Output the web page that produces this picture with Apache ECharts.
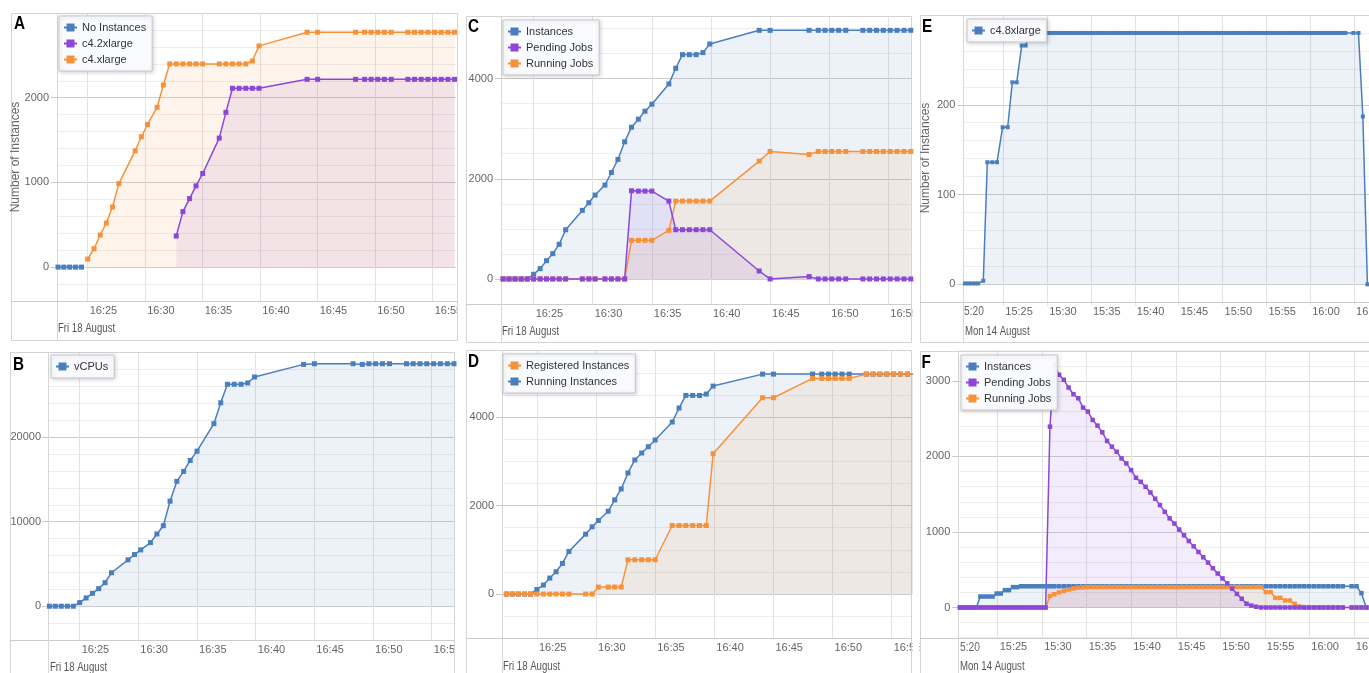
<!DOCTYPE html>
<html><head><meta charset="utf-8">
<script src="https://cdn.jsdelivr.net/npm/echarts@6/dist/echarts.min.js"></script>
<style>html,body{margin:0;padding:0;background:#fff}#c{width:1369px;height:673px}</style>
</head><body><div id="c"></div>
<script>
// ---------------- DATA (minutes after the hour) ----------------
// Fri 18 August, minutes after 16:00 (panels A-D)
const T_AD = [22.42, 22.92, 23.43, 23.95, 24.46, 25.0, 25.55, 26.09, 26.62, 27.16,
  27.71, 29.12, 29.67, 30.2, 31.03, 31.58, 32.13, 32.7, 33.28, 33.86,
  34.42, 35.0, 36.44, 37.02, 37.59, 38.17, 38.75, 39.32, 39.9, 44.08,
  45.0, 48.3, 49.08, 49.65, 50.22, 50.8, 51.4, 52.85, 53.42, 54.0,
  54.58, 55.16, 55.74, 56.33, 56.9];

const A_NO_INSTANCES = [0, 0, 0, 0, 0];
const A_C4_2XLARGE = [null, null, null, null, null, null, null, null, null, null,
  null, null, null, null, null, null, null, 367, 655, 809,
  959, 1105, 1523, 1827, 2111, 2111, 2111, 2111, 2111, 2217,
  2217, 2217, 2217, 2217, 2217, 2217, 2217, 2217, 2217, 2217,
  2217, 2217, 2217, 2217, 2217];
const A_C4_XLARGE = [null, null, null, null, null, 95, 217, 379, 521, 710,
  986, 1373, 1539, 1684, 1886, 2150, 2399, 2399, 2399, 2399,
  2399, 2399, 2399, 2399, 2399, 2399, 2399, 2434, 2612, 2773,
  2773, 2773, 2773, 2773, 2773, 2773, 2773, 2773, 2773, 2773,
  2773, 2773, 2773, 2773, 2773];

const B_VCPUS = [0, 0, 0, 0, 0, 431, 980, 1529, 2078, 2783,
  3959, 5488, 6115, 6664, 7526, 8546, 9526, 12426, 14778, 15954,
  17248, 18346, 21600, 24069, 26264, 26264, 26264, 26421, 27126, 28616,
  28694, 28694, 28616, 28694, 28694, 28694, 28694, 28694, 28694, 28694,
  28694, 28694, 28694, 28694, 28694];

const C_INSTANCES = [0, 0, 0, 0, 0, 93, 206, 365, 505, 691,
  983, 1369, 1522, 1675, 1874, 2126, 2386, 2738, 3030, 3190,
  3349, 3489, 3894, 4206, 4479, 4479, 4479, 4519, 4691, 4964,
  4964, 4964, 4964, 4964, 4964, 4964, 4964, 4964, 4964, 4964,
  4964, 4964, 4964, 4964, 4964];
const C_PENDING = [0, 0, 0, 0, 0, 0, 0, 0, 0, 0,
  0, 0, 0, 0, 0, 0, 0, 0, 1761, 1754,
  1754, 1754, 1555, 983, 983, 983, 983, 983, 983, 159,
  0, 47, 0, 0, 0, 0, 0, 0, 0, 0,
  0, 0, 0, 0, 0];
const C_RUNNING = [0, 0, 0, 0, 0, 0, 0, 0, 0, 0,
  0, 0, 0, 0, 0, 0, 0, 0, 771, 771,
  771, 771, 970, 1555, 1555, 1555, 1555, 1555, 1555, 2352,
  2545, 2485, 2545, 2545, 2545, 2545, 2545, 2545, 2545, 2545,
  2545, 2545, 2545, 2545, 2545];

const D_REGISTERED = [0, 0, 0, 0, 0, 0, 0, 0, 0, 0,
  0, 0, 0, 158, 158, 158, 158, 775, 775, 775,
  775, 775, 1549, 1549, 1549, 1549, 1549, 1549, 3173, 4437,
  4437, 4873, 4873, 4873, 4873, 4873, 4873, 4971, 4971, 4971,
  4971, 4971, 4971, 4971, 4971];
const D_RUNNING = [0, 0, 0, 0, 0, 105, 203, 361, 504, 692,
  963, 1354, 1519, 1662, 1872, 2128, 2376, 2737, 3031, 3188,
  3331, 3482, 3888, 4204, 4489, 4489, 4489, 4520, 4700, 4971,
  4971, 4971, 4971, 4971, 4971, 4971, 4971, 4971, 4971, 4971,
  4971, 4971, 4971, 4971, 4971];

// Mon 14 August, minutes after 15:00 (panel E)
const E_T = [20.63, 21.0, 21.38, 21.76, 22.14, 22.72, 23.18, 23.75, 24.28, 24.93,
  25.5, 26.03, 26.53, 27.1, 27.55,
  28.04, 28.37, 28.70, 29.03, 29.36, 29.69, 30.02, 30.35, 30.68, 31.01,
  31.34, 31.67, 32.00, 32.33, 32.66, 32.99, 33.32, 33.65, 33.98, 34.31,
  34.64, 34.97, 35.30, 35.63, 35.96, 36.29, 36.62, 36.95, 37.28, 37.61,
  37.94, 38.27, 38.60, 38.93, 39.26, 39.59, 39.92, 40.25, 40.58, 40.91,
  41.24, 41.57, 41.90, 42.23, 42.56, 42.89, 43.22, 43.55, 43.88, 44.21,
  44.54, 44.87, 45.20, 45.53, 45.86, 46.19, 46.52, 46.85, 47.18, 47.51,
  47.84, 48.17, 48.50, 48.83, 49.16, 49.49, 49.82, 50.15, 50.48, 50.81,
  51.14, 51.47, 51.80, 52.13, 52.46, 52.79, 53.12, 53.45, 53.78, 54.11,
  54.44, 54.77, 55.10, 55.43, 55.76, 56.09, 56.42, 56.75, 57.08, 57.41,
  57.74, 58.07, 58.40, 58.73, 59.06, 59.39, 59.72, 60.05, 60.38, 60.71,
  61.04, 61.37, 61.70, 62.03, 62.36, 62.69, 63.02, 63.35, 63.68, 64.01,
  64.92, 65.5, 66.0, 66.52];
const E_C4_8XLARGE = [1, 1, 1, 1, 1, 4, 136, 136, 136, 175,
  175, 225, 225, 266, 266,
  280, 280, 280, 280, 280, 280, 280, 280, 280, 280,
  280, 280, 280, 280, 280, 280, 280, 280, 280, 280,
  280, 280, 280, 280, 280, 280, 280, 280, 280, 280,
  280, 280, 280, 280, 280, 280, 280, 280, 280, 280,
  280, 280, 280, 280, 280, 280, 280, 280, 280, 280,
  280, 280, 280, 280, 280, 280, 280, 280, 280, 280,
  280, 280, 280, 280, 280, 280, 280, 280, 280, 280,
  280, 280, 280, 280, 280, 280, 280, 280, 280, 280,
  280, 280, 280, 280, 280, 280, 280, 280, 280, 280,
  280, 280, 280, 280, 280, 280, 280, 280, 280, 280,
  280, 280, 280, 280, 280, 280, 280, 280, 280, 280,
  280, 280, 187, 0];

// Mon 14 August, minutes after 15:00 (panel F)
const F_T = [20.77, 21.23, 21.69, 22.14, 22.6, 23.06, 23.52, 23.98, 24.43, 24.89,
  25.35, 25.81, 26.27, 26.72, 27.18, 27.64, 28.1, 28.56, 29.01, 29.47,
  29.93, 30.39, 30.87, 31.35, 31.89, 32.43, 32.97, 33.51, 34.05, 34.59,
  35.13, 35.67, 36.21, 36.75, 37.29, 37.83, 38.37, 38.91, 39.45, 39.99,
  40.53, 41.07, 41.61, 42.15, 42.69, 43.23, 43.77, 44.31, 44.85, 45.39,
  45.93, 46.47, 47.01, 47.55, 48.09, 48.63, 49.17, 49.71, 50.25, 50.79,
  51.33, 51.87, 52.41, 52.95, 53.49, 54.03, 54.57, 55.11, 55.65, 56.19,
  56.73, 57.27, 57.81, 58.35, 58.89, 59.43, 59.97, 60.51, 61.05, 61.59,
  62.13, 62.67, 63.21, 63.75, 64.75, 65.3, 65.85, 66.4];
const F_INSTANCES = [0, 0, 0, 0, 0, 145, 145, 145, 145, 185,
  185, 230, 230, 270, 270, 281, 281, 281, 281, 281,
  281, 281, 281, 281, 281, 281, 281, 281, 281, 281,
  281, 281, 281, 281, 281, 281, 281, 281, 281, 281,
  281, 281, 281, 281, 281, 281, 281, 281, 281, 281,
  281, 281, 281, 281, 281, 281, 281, 281, 281, 281,
  281, 281, 281, 281, 281, 281, 281, 281, 281, 281,
  281, 281, 281, 281, 281, 281, 281, 281, 281, 281,
  281, 281, 281, 281, 281, 281, 190, 0];
const F_PENDING = [0, 0, 0, 0, 0, 0, 0, 0, 0, 0,
  0, 0, 0, 0, 0, 0, 0, 0, 0, 0,
  0, 0, 2394, 3214, 3081, 3015, 2912, 2824, 2771, 2647,
  2594, 2483, 2408, 2320, 2205, 2129, 2062, 1974, 1908, 1819,
  1717, 1664, 1598, 1523, 1440, 1355, 1266, 1180, 1111, 1032,
  956, 880, 810, 735, 665, 595, 520, 450, 385, 320,
  250, 180, 115, 50, 25, 10, 0, 0, 0, 0,
  0, 0, 0, 0, 0, 0, 0, 0, 0, 0,
  0, 0, 0, 0, 0, 0, 0, 0];
const F_RUNNING = [0, 0, 0, 0, 0, 0, 0, 0, 0, 0,
  0, 0, 0, 0, 0, 0, 0, 0, 0, 0,
  0, 0, 150, 175, 200, 218, 238, 252, 262, 266,
  270, 270, 270, 270, 270, 270, 270, 270, 270, 270,
  270, 270, 270, 270, 270, 270, 270, 270, 270, 270,
  270, 270, 270, 270, 270, 270, 270, 270, 270, 270,
  270, 270, 270, 270, 270, 270, 270, 204, 204, 128,
  128, 93, 93, 49, 13, 0, 0, 0, 0, 0,
  0, 0, 0, 0, 0, 0, 0, 0];

// tick labels (minutes after the hour)
const X_TICKS_AD = [25, 30, 35, 40, 45, 50, 55];
const X_TICKS_EF = [25, 30, 35, 40, 45, 50, 55, 60, 65];

// ---------------- STYLE / LAYOUT ----------------
const FONT = "'Liberation Sans',Arial,sans-serif";
const BLUE = '#4a7ebd', PURPLE = '#8c47d9', ORANGE = '#f7923a';
const GRID_V = '#e3e3e3', GRID_MAJOR = '#cdcdcd', GRID_MINOR = '#eeeeee';
const BORDER = '#d4d4d4', AXIS_LINE = '#cccccc';

function pairs(ts, vs) {
  const out = [];
  for (let i = 0; i < ts.length; i++) {
    const v = vs[i];
    if (v !== null && v !== undefined) out.push([ts[i], v]);
  }
  return out;
}
function fmtTime(hour, m) {
  const h = hour + Math.floor(m / 60);
  const mm = m % 60;
  return h + ':' + (mm < 10 ? '0' : '') + mm;
}

const panels = [
  { letter: 'A', box: [11, 13, 446, 327], grid: { left: 57, top: 13, width: 399, height: 288 },
    xr: [22.33, 57.03], yr: [-400, 3000], yInt: 200, major: 1000, ym: 7, hour: 16, ticks: X_TICKS_AD,
    date: 'Fri 18 August', dateXY: [58, 329], letterXY: [14, 24.5], yName: [16, 157],
    legend: { left: 59, top: 16, data: ['No Instances', 'c4.2xlarge', 'c4.xlarge'] },
    series: [
      { name: 'No Instances', t: T_AD, v: A_NO_INSTANCES, c: BLUE },
      { name: 'c4.2xlarge', t: T_AD, v: A_C4_2XLARGE, c: PURPLE },
      { name: 'c4.xlarge', t: T_AD, v: A_C4_XLARGE, c: ORANGE }
    ], sym: 5 },
  { letter: 'B', box: [10, 352, 444, 340], grid: { left: 48, top: 352.7, width: 406, height: 287.3 },
    xr: [22.3, 56.9], yr: [-4000, 30000], yInt: 2000, major: 10000, ym: 6, hour: 16, ticks: X_TICKS_AD,
    date: 'Fri 18 August', dateXY: [50, 668], letterXY: [13, 365],
    legend: { left: 51, top: 355, data: ['vCPUs'] },
    series: [{ name: 'vCPUs', t: T_AD, v: B_VCPUS, c: BLUE }], sym: 5 },
  { letter: 'C', box: [466, 16, 445, 326], grid: { left: 501, top: 16, width: 410, height: 288 },
    xr: [22.24, 56.92], yr: [-500, 5250], yInt: 500, major: 2000, ym: 7, hour: 16, ticks: X_TICKS_AD,
    date: 'Fri 18 August', dateXY: [502, 332], letterXY: [468, 27.5],
    legend: { left: 503, top: 20, data: ['Instances', 'Pending Jobs', 'Running Jobs'] },
    series: [
      { name: 'Instances', t: T_AD, v: C_INSTANCES, c: BLUE },
      { name: 'Running Jobs', t: T_AD, v: C_RUNNING, c: ORANGE },
      { name: 'Pending Jobs', t: T_AD, v: C_PENDING, c: PURPLE }
    ], sym: 5 },
  { letter: 'D', box: [466, 350, 445, 340], grid: { left: 502, top: 350.7, width: 409, height: 287.6 },
    xr: [22.05, 56.63], yr: [-1000, 5500], yInt: 500, major: 2000, ym: 7, hour: 16, ticks: X_TICKS_AD,
    date: 'Fri 18 August', dateXY: [503, 667], letterXY: [468, 362.5],
    legend: { left: 503, top: 354, data: ['Registered Instances', 'Running Instances'] },
    series: [
      { name: 'Running Instances', t: T_AD, v: D_RUNNING, c: BLUE },
      { name: 'Registered Instances', t: T_AD, v: D_REGISTERED, c: ORANGE }
    ], sym: 5 },
  { letter: 'E', box: [920, 15, 470, 327], grid: { left: 963.3, top: 15, width: 405.7, height: 287.3 },
    xr: [20.44, 66.7], yr: [-20, 300], yInt: 20, major: 100, ym: 7, hour: 15, ticks: X_TICKS_EF,
    date: 'Mon 14 August', dateXY: [965, 331.5], letterXY: [922, 27.5], yName: [926, 158], cut: [964, 312],
    legend: { left: 967, top: 19, data: ['c4.8xlarge'] },
    series: [{ name: 'c4.8xlarge', t: E_T, v: E_C4_8XLARGE, c: BLUE }], sym: 4 },
  { letter: 'F', box: [920, 351, 470, 340], grid: { left: 958.3, top: 350.7, width: 410.7, height: 287 },
    xr: [20.58, 66.7], yr: [-400, 3400], yInt: 200, major: 1000, ym: 7, hour: 15, ticks: X_TICKS_EF,
    date: 'Mon 14 August', dateXY: [960, 667], letterXY: [921.5, 363], cut: [960, 648],
    legend: { left: 961, top: 355, data: ['Instances', 'Pending Jobs', 'Running Jobs'] },
    series: [
      { name: 'Instances', t: F_T, v: F_INSTANCES, c: BLUE },
      { name: 'Running Jobs', t: F_T, v: F_RUNNING, c: ORANGE },
      { name: 'Pending Jobs', t: F_T, v: F_PENDING, c: PURPLE }
    ], sym: 4.5 }
];

function gridColors(p) {
  const n = Math.round(p.major / p.yInt);
  const arr = [];
  for (let k = 0; k < n; k++) {
    const v = p.yr[0] + k * p.yInt;
    arr.push(v % p.major === 0 ? GRID_MAJOR : GRID_MINOR);
  }
  return arr;
}
function majorValues(p) {
  const out = [];
  for (let v = Math.ceil(p.yr[0] / p.major) * p.major; v < p.yr[1]; v += p.major) out.push(v);
  return out;
}

const xAxis = [], yAxis = [], series = [], legend = [], elements = [];
panels.forEach((p, i) => {
  xAxis.push({
    type: 'value', gridIndex: i, min: p.xr[0], max: p.xr[1],
    axisLine: { show: false },
    axisTick: { show: true, length: 21, customValues: p.ticks, lineStyle: { color: GRID_V } },
    axisLabel: { customValues: p.ticks, formatter: v => fmtTime(p.hour, v), align: 'left', margin: 4,
      padding: [0, 0, 0, 2], color: '#666', fontSize: 11, fontFamily: FONT },
    splitLine: { show: true, lineStyle: { color: GRID_V, width: 1 } }
  });
  // grid-line axis
  yAxis.push({
    type: 'value', gridIndex: i, min: p.yr[0], max: p.yr[1], interval: p.yInt,
    axisLine: { show: false }, axisTick: { show: false }, axisLabel: { show: false },
    splitLine: { show: true, lineStyle: { color: gridColors(p), width: 1 } }
  });
});
panels.forEach((p, i) => {
  // label axis
  const mv = majorValues(p);
  yAxis.push({
    type: 'value', gridIndex: i, min: p.yr[0], max: p.yr[1], position: 'left',
    axisLine: { show: false },
    axisTick: { show: true, length: 6, customValues: mv, lineStyle: { color: '#c8c8c8' } },
    axisLabel: { customValues: mv, formatter: v => String(v), margin: p.ym + 1, color: '#666', fontSize: 11, fontFamily: FONT },
    splitLine: { show: false }
  });
});

panels.forEach((p, i) => {
  p.series.forEach(s => {
    series.push({
      type: 'line', name: s.name, xAxisIndex: i, yAxisIndex: i,
      data: pairs(s.t, s.v), symbol: 'rect', symbolSize: p.sym, showSymbol: true, showAllSymbol: true,
      lineStyle: { width: 1.5, color: s.c }, itemStyle: { color: s.c },
      areaStyle: { color: s.c, opacity: 0.1 }, emphasis: { disabled: true }, animation: false
    });
  });
  legend.push({
    left: p.legend.left, top: p.legend.top, orient: 'vertical', data: p.legend.data,
    itemWidth: 13, itemHeight: 10, itemGap: 5, padding: [6, 6, 6, 4],
    backgroundColor: 'rgba(250,252,255,0.96)', borderColor: '#c8c8c8', borderWidth: 1, borderRadius: 0,
    shadowBlur: 4, shadowColor: 'rgba(0,0,0,0.18)', shadowOffsetX: 1, shadowOffsetY: 1,
    textStyle: { fontSize: 11, color: '#333', fontFamily: FONT }, selectedMode: false
  });

  const [bx, by, bw, bh] = p.box;
  const g = p.grid;
  const axisY = Math.round(g.top + g.height) + 0.5;
  const axisX = Math.round(g.left) + 0.5;
  elements.push({ type: 'rect', silent: true, z: 1,
    shape: { x: bx + 0.5, y: by + 0.5, width: bw, height: bh },
    style: { fill: 'none', stroke: BORDER, lineWidth: 1 } });
  elements.push({ type: 'line', silent: true, z: 1,
    shape: { x1: bx, y1: axisY, x2: bx + bw, y2: axisY }, style: { stroke: AXIS_LINE, lineWidth: 1 } });
  elements.push({ type: 'line', silent: true, z: 1,
    shape: { x1: axisX, y1: by, x2: axisX, y2: by + bh }, style: { stroke: '#d8d8d8', lineWidth: 1 } });
  elements.push({ type: 'text', silent: true, z: 20, x: p.letterXY[0], y: p.letterXY[1], scaleX: 0.85,
    style: { text: p.letter, fill: '#000', font: 'bold 18px ' + FONT, textAlign: 'left', textVerticalAlign: 'middle', align: 'left', verticalAlign: 'middle' } });
  elements.push({ type: 'text', silent: true, z: 20, x: p.dateXY[0], y: p.dateXY[1], scaleX: 0.8,
    style: { text: p.date, fill: '#555', font: '12px ' + FONT, textAlign: 'left', textVerticalAlign: 'middle', align: 'left', verticalAlign: 'middle' } });
  if (p.yName) {
    elements.push({ type: 'text', silent: true, z: 20, x: p.yName[0], y: p.yName[1], rotation: Math.PI / 2,
      style: { text: 'Number of Instances', fill: '#666', font: '12px ' + FONT, textAlign: 'center', textVerticalAlign: 'middle', align: 'center', verticalAlign: 'middle' } });
  }
  if (p.cut) {
    elements.push({ type: 'text', silent: true, z: 20, x: p.cut[0], y: p.cut[1], scaleX: 0.85,
      style: { text: '5:20', fill: '#666', font: '12px ' + FONT, textAlign: 'left', textVerticalAlign: 'middle', align: 'left', verticalAlign: 'middle' } });
  }
});
// white gaps between panels (clip overflowing tick labels)
[[458, 300, 7, 42], [455, 640, 10, 33], [912.5, 303, 7, 40], [912.5, 637, 7, 36]].forEach(r => {
  elements.push({ type: 'rect', silent: true, z: 50, shape: { x: r[0], y: r[1], width: r[2], height: r[3] },
    style: { fill: '#fff', stroke: 'none' } });
});

const chart = echarts.init(document.getElementById('c'), null, { renderer: 'canvas' });
chart.setOption({
  animation: false,
  backgroundColor: '#fff',
  textStyle: { fontFamily: FONT },
  grid: panels.map(p => Object.assign({ outerBoundsMode: 'none', containLabel: false }, p.grid)),
  xAxis, yAxis, legend, series,
  graphic: { elements }
});
</script></body></html>
